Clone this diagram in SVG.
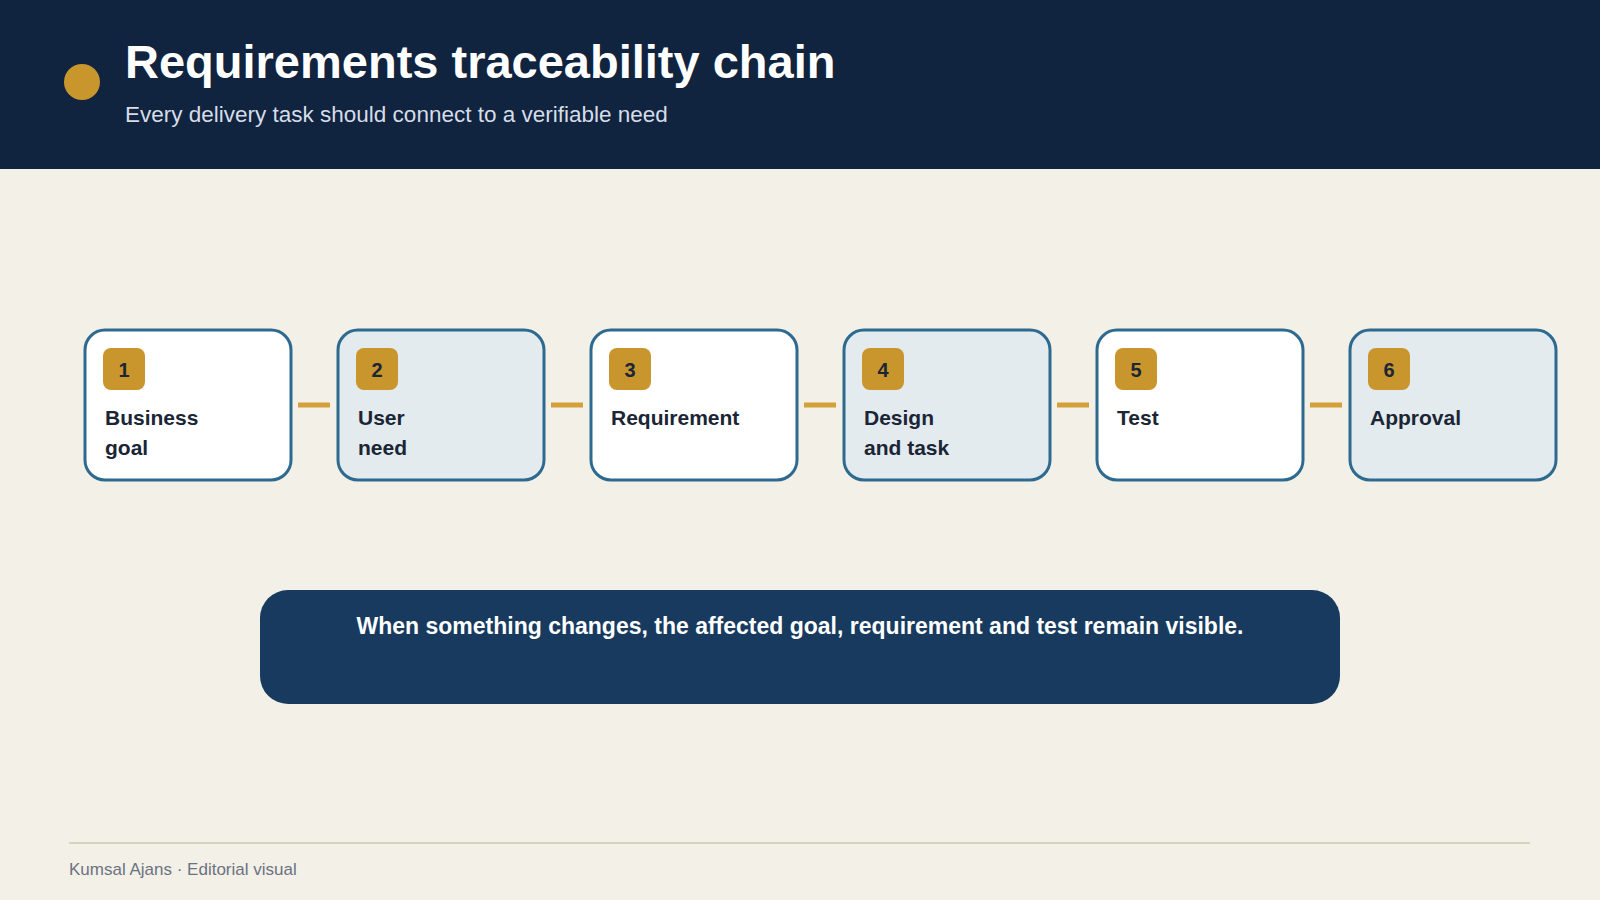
<svg xmlns="http://www.w3.org/2000/svg" width="1600" height="900" viewBox="0 0 1600 900">
<style>
text{font-family:"Liberation Sans",Arial,sans-serif}
.box{stroke:#2e6a90;stroke-width:3}
.w{fill:#ffffff}.b{fill:#e3ebee}
.badge{fill:#c9962e}
.num{font-size:20px;font-weight:bold;fill:#1a2535;text-anchor:middle}
.lbl{font-size:21px;font-weight:bold;fill:#1a2535}
.con{stroke:#d4a03a;stroke-width:5}
</style>
<rect width="1600" height="900" fill="#f3f0e8"/>
<rect width="1600" height="169" fill="#10233f"/>
<circle cx="82" cy="82" r="18" fill="#c9962e"/>
<text x="125" y="78" font-size="47" font-weight="bold" fill="#ffffff">Requirements traceability chain</text>
<text x="125" y="122" font-size="22.5" fill="#d6dde8">Every delivery task should connect to a verifiable need</text>
<g id="connectors">
<line class="con" x1="298" y1="405" x2="330" y2="405"/>
<line class="con" x1="551" y1="405" x2="583" y2="405"/>
<line class="con" x1="804" y1="405" x2="836" y2="405"/>
<line class="con" x1="1057" y1="405" x2="1089" y2="405"/>
<line class="con" x1="1310" y1="405" x2="1342" y2="405"/>
</g>
<g id="n1"><rect class="box w" x="85" y="330" width="206" height="150" rx="20"/><rect class="badge" x="103" y="348" width="42" height="42" rx="8"/><text class="num" x="124" y="377">1</text><text class="lbl" x="105" y="425">Business</text><text class="lbl" x="105" y="455">goal</text></g>
<g id="n2"><rect class="box b" x="338" y="330" width="206" height="150" rx="20"/><rect class="badge" x="356" y="348" width="42" height="42" rx="8"/><text class="num" x="377" y="377">2</text><text class="lbl" x="358" y="425">User</text><text class="lbl" x="358" y="455">need</text></g>
<g id="n3"><rect class="box w" x="591" y="330" width="206" height="150" rx="20"/><rect class="badge" x="609" y="348" width="42" height="42" rx="8"/><text class="num" x="630" y="377">3</text><text class="lbl" x="611" y="425">Requirement</text></g>
<g id="n4"><rect class="box b" x="844" y="330" width="206" height="150" rx="20"/><rect class="badge" x="862" y="348" width="42" height="42" rx="8"/><text class="num" x="883" y="377">4</text><text class="lbl" x="864" y="425">Design</text><text class="lbl" x="864" y="455">and task</text></g>
<g id="n5"><rect class="box w" x="1097" y="330" width="206" height="150" rx="20"/><rect class="badge" x="1115" y="348" width="42" height="42" rx="8"/><text class="num" x="1136" y="377">5</text><text class="lbl" x="1117" y="425">Test</text></g>
<g id="n6"><rect class="box b" x="1350" y="330" width="206" height="150" rx="20"/><rect class="badge" x="1368" y="348" width="42" height="42" rx="8"/><text class="num" x="1389" y="377">6</text><text class="lbl" x="1370" y="425">Approval</text></g>
<g id="callout"><rect x="260" y="590" width="1080" height="114" rx="28" fill="#173a5e"/><text x="800" y="634" font-size="23" font-weight="bold" fill="#ffffff" text-anchor="middle">When something changes, the affected goal, requirement and test remain visible.</text></g>
<line x1="69" y1="843" x2="1530" y2="843" stroke="#d8d3bf" stroke-width="2"/>
<text x="69" y="875" font-size="17" fill="#6b7280">Kumsal Ajans · Editorial visual</text>
</svg>
